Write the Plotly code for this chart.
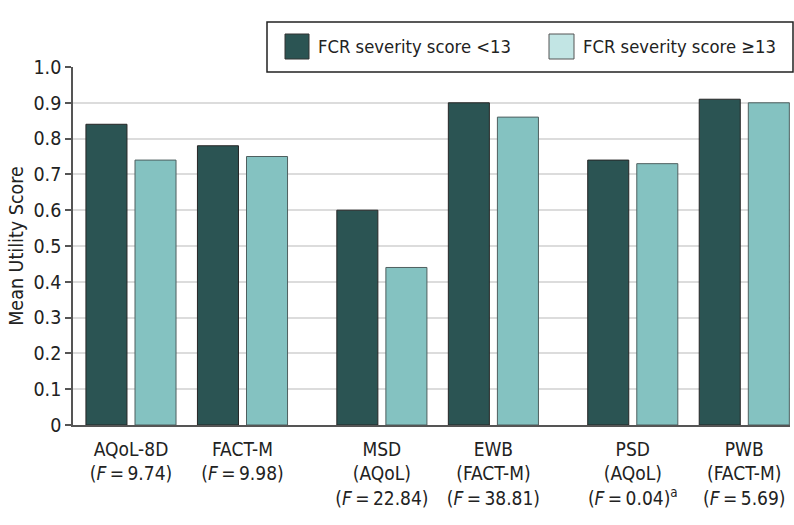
import plotly.graph_objects as go

# ---- data ----
categories = ["AQoL-8D<br>(<i>F</i>\u2009=\u20099.74)",
              "FACT-M<br>(<i>F</i>\u2009=\u20099.98)",
              "MSD<br>(AQoL)<br>(<i>F</i>\u2009=\u200922.84)",
              "EWB<br>(FACT-M)<br>(<i>F</i>\u2009=\u200938.81)",
              "PSD<br>(AQoL)<br>(<i>F</i>\u2009=\u20090.04)<sup>a</sup>",
              "PWB<br>(FACT-M)<br>(<i>F</i>\u2009=\u20095.69)"]
x_pos = [0, 1, 2.25, 3.25, 4.5, 5.5]
low_fcr = [0.84, 0.78, 0.60, 0.90, 0.74, 0.91]
high_fcr = [0.74, 0.75, 0.44, 0.86, 0.73, 0.90]
series_names = ["FCR severity score <13", "FCR severity score \u226513"]
y_ticks = [0, 0.1, 0.2, 0.3, 0.4, 0.5, 0.6, 0.7, 0.8, 0.9, 1.0]
y_ticktext = ["0", "0.1", "0.2", "0.3", "0.4", "0.5", "0.6", "0.7", "0.8", "0.9", "1.0"]

DARK = "#2b5453"
LIGHT = "#84c2c1"
LIGHT_SW = "#c2e5e4"
FONT = "DejaVu Sans Condensed, DejaVu Sans"

W, H = 794, 525
ML, MR, MT, MB = 73, 4, 67, 100
PW, PH = W - ML - MR, H - MT - MB

def px(xp):
    return (xp - ML) / PW

def py(yp):
    return (H - MB - yp) / PH

fig = go.Figure()
fig.add_trace(go.Bar(x=x_pos, y=low_fcr, name=series_names[0], width=0.368, offset=-0.404,
                     marker=dict(color=DARK, line=dict(color="#262626", width=1)),
                     showlegend=False))
fig.add_trace(go.Bar(x=x_pos, y=high_fcr, name=series_names[1], width=0.368, offset=0.036,
                     marker=dict(color=LIGHT, line=dict(color="#4f5f5f", width=1)),
                     showlegend=False))

# legend drawn manually
shapes = [
    dict(type="rect", xref="paper", yref="paper", x0=px(267), x1=px(793), y0=py(72), y1=py(22),
         line=dict(color="#222222", width=1.5), fillcolor="white", layer="above"),
    dict(type="rect", xref="paper", yref="paper", x0=px(285), x1=px(309), y0=py(59), y1=py(34),
         line=dict(color="#333333", width=1), fillcolor=DARK, layer="above"),
    dict(type="rect", xref="paper", yref="paper", x0=px(549), x1=px(574), y0=py(59), y1=py(34),
         line=dict(color="#555555", width=1), fillcolor=LIGHT_SW, layer="above"),
]
annotations = [
    dict(xref="paper", yref="paper", x=px(316), y=py(46.5), text=series_names[0], showarrow=False,
         xanchor="left", yanchor="middle", font=dict(family=FONT, size=18.3, color="#222222")),
    dict(xref="paper", yref="paper", x=px(581), y=py(46.5), text=series_names[1], showarrow=False,
         xanchor="left", yanchor="middle", font=dict(family=FONT, size=18.3, color="#222222")),
]

fig.update_layout(
    width=W, height=H,
    margin=dict(l=ML, r=MR, t=MT, b=MB, pad=0),
    plot_bgcolor="white", paper_bgcolor="white",
    barmode="overlay",
    font=dict(family=FONT, size=18, color="#222222"),
    shapes=shapes, annotations=annotations,
    xaxis=dict(range=[-0.52, 5.91], tickmode="array", tickvals=x_pos, ticktext=categories,
               showgrid=False, zeroline=False, showline=True, linecolor="#555555", linewidth=1.5,
               ticks="", ticklabelstandoff=6,
               tickfont=dict(family=FONT, size=19, color="#222222"), fixedrange=True),
    yaxis=dict(range=[0, 1.0], tickmode="array", tickvals=y_ticks, ticktext=y_ticktext,
               showgrid=True, gridcolor="#dcdcdc", gridwidth=1.5, zeroline=False,
               showline=True, linecolor="#555555", linewidth=1.5,
               ticks="outside", ticklen=6, tickcolor="#555555", tickwidth=1.5,
               tickfont=dict(family=FONT, size=19.5, color="#222222"),
               title=dict(text="Mean Utility Score", font=dict(family=FONT, size=19.5, color="#222222"),
                          standoff=5)),
)

fig.write_html("out.html", config={"displayModeBar": False},
               post_script="document.body.style.margin='0';")
